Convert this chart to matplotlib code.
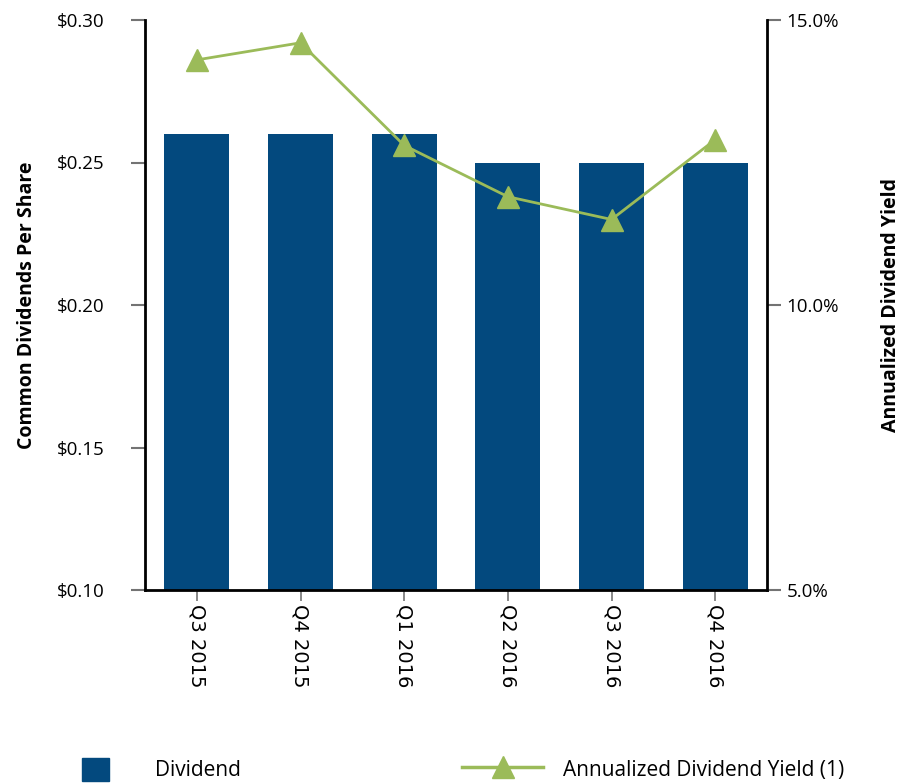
import matplotlib
matplotlib.use("Agg")
import matplotlib.pyplot as plt
from matplotlib.patches import Patch
from matplotlib.lines import Line2D

quarters = ["Q3 2015", "Q4 2015", "Q1 2016", "Q2 2016", "Q3 2016", "Q4 2016"]
dividend = [0.26, 0.26, 0.26, 0.25, 0.25, 0.25]
yield_pct = [14.3, 14.6, 12.8, 11.9, 11.5, 12.9]

BLUE = "#03497e"
GREEN = "#9bbb59"
FONT = ["Open Sans", "DejaVu Sans"]

fig = plt.figure(figsize=(9.03, 7.83), dpi=100)
ax = fig.add_axes([145 / 903, 1 - 590 / 783, 622 / 903, 570 / 783])
x = range(len(quarters))
ax.bar(x, dividend, width=0.625, color=BLUE, zorder=2)
ax.set_xlim(-0.5, len(quarters) - 0.5)
ax.set_ylim(0.10, 0.30)
ax.set_yticks([0.10, 0.15, 0.20, 0.25, 0.30])
ax.set_yticklabels([f"${v:.2f}" for v in [0.10, 0.15, 0.20, 0.25, 0.30]], family=FONT, fontsize=13.5)
ax.set_xticks(list(x))
ax.set_xticklabels(quarters, rotation=-90, fontsize=14, family="DejaVu Sans")
ax.tick_params(axis="y", length=10, width=1.5, color="0.45", pad=19)
ax.tick_params(axis="x", length=8, width=1.2, color="0.45", pad=2)
ax.spines["top"].set_visible(False)
ax.spines["right"].set_visible(False)
ax.spines["left"].set_linewidth(2)
ax.spines["bottom"].set_linewidth(2)
ax.set_ylabel("Common Dividends Per Share", family=FONT, fontsize=14, fontweight="bold")
ax.yaxis.set_label_coords(-0.173, 0.5)

ax2 = ax.twinx()
ax2.plot(list(x), yield_pct, color=GREEN, lw=2, marker="^", markersize=16, zorder=3)
ax2.set_ylim(5, 15)
ax2.set_yticks([5, 10, 15])
ax2.set_yticklabels([f"{v:.1f}%" for v in [5, 10, 15]], family=FONT, fontsize=13.5)
ax2.tick_params(axis="y", length=10, width=1.5, color="0.45", pad=4)
for s in ("top", "left", "bottom"):
    ax2.spines[s].set_visible(False)
ax2.spines["right"].set_linewidth(2)
ax2.set_ylabel("Annualized Dividend Yield", family=FONT, fontsize=14, fontweight="bold")
ax2.yaxis.set_label_coords(1.183, 0.5)

fs = 15
common = dict(loc="upper left", frameon=False, borderpad=0, borderaxespad=0,
              handleheight=1.3, prop={"family": FONT, "size": fs})
fig.legend(handles=[Patch(color=BLUE, label="Dividend")],
           bbox_to_anchor=(82 / 903, 1 - 758 / 783),
           handlelength=1.3, handletextpad=2.2, **common)
fig.legend(handles=[Line2D([], [], color=GREEN, lw=2.5, marker="^", markersize=16,
                           label="Annualized Dividend Yield (1)")],
           bbox_to_anchor=(462 / 903, 1 - 758 / 783),
           handlelength=3.9, handletextpad=0.95, **common)

fig.savefig("out.png", dpi=100)
